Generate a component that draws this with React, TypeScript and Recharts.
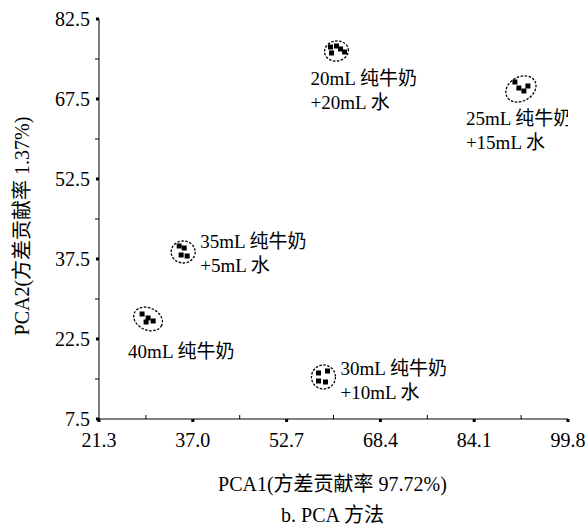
import React from 'react';
import { ScatterChart, Scatter, XAxis, YAxis } from 'recharts';

// tick values (major + minor midpoints)
const xTicks = [21.3, 29.15, 37.0, 44.85, 52.7, 60.55, 68.4, 76.25, 84.1, 91.95, 99.8];
const yTicks = [7.5, 15, 22.5, 30, 37.5, 45, 52.5, 60, 67.5, 75, 82.5];
const xMajor = [21.3, 37.0, 52.7, 68.4, 84.1, 99.8];
const yMajor = [7.5, 22.5, 37.5, 52.5, 67.5, 82.5];

// sample scores per group
const milk20water20 = [
  { x: 60.05, y: 77.25 },
  { x: 61.05, y: 77.44 },
  { x: 61.73, y: 76.88 },
  { x: 62.4, y: 76.31 },
  { x: 60.22, y: 76.13 },
];
const milk25water15 = [
  { x: 90.91, y: 70.69 },
  { x: 91.58, y: 69.56 },
  { x: 92.42, y: 69.0 },
  { x: 93.09, y: 69.94 },
];
const milk35water5 = [
  { x: 34.72, y: 39.94 },
  { x: 35.56, y: 39.56 },
  { x: 36.06, y: 38.06 },
  { x: 35.05, y: 38.25 },
];
const milk40 = [
  { x: 28.51, y: 27.19 },
  { x: 29.52, y: 26.44 },
  { x: 30.36, y: 25.88 },
  { x: 29.18, y: 25.69 },
];
const milk30water10 = [
  { x: 58.04, y: 16.13 },
  { x: 59.55, y: 16.5 },
  { x: 59.21, y: 14.44 },
  { x: 58.04, y: 14.63 },
];

const groups = [milk20water20, milk25water15, milk35water5, milk40, milk30water10];

// group centres (ellipse centres) and their captions
const centres = [
  { x: 61.05, y: 76.5, id: 0 },
  { x: 91.92, y: 69.38, id: 1 },
  { x: 35.39, y: 38.81, id: 2 },
  { x: 29.52, y: 26.25, id: 3 },
  { x: 58.87, y: 15.38, id: 4 },
];
const captions = [
  ['20mL 纯牛奶', '+20mL 水'],
  ['25mL 纯牛奶', '+15mL 水'],
  ['35mL 纯牛奶', '+5mL 水'],
  ['40mL 纯牛奶'],
  ['30mL 纯牛奶', '+10mL 水'],
];

// ellipse size/tilt and caption offset, in px
const marks = [
  { rx: 12, ry: 10, rot: -10, dx: -26, dy: 27 },
  { rx: 16, ry: 12, rot: -30, dx: -55, dy: 29 },
  { rx: 12, ry: 11, rot: 0, dx: 17, dy: -11 },
  { rx: 15, ry: 11, rot: 25, dx: -20, dy: 32 },
  { rx: 12, ry: 12, rot: 0, dx: 17, dy: -9 },
];

const FONT = '"Liberation Serif", "Noto Sans CJK SC", serif';
const FS = 20;

const XTick = (props: any) => {
  const { x, y, payload } = props;
  const major = xMajor.some((v) => Math.abs(v - payload.value) < 0.01);
  if (!major) return <line x1={x} x2={x} y1={y} y2={y - 4} stroke="#000" />;
  return (
    <g>
      <rect x={x - 1.5} y={y} width={3} height={3} fill="#000" />
      <text x={x} y={y + 28} textAnchor="middle" fontSize={FS} fontFamily={FONT} fill="#000">
        {payload.value.toFixed(1)}
      </text>
    </g>
  );
};

const YTick = (props: any) => {
  const { x, y, payload } = props;
  const major = yMajor.some((v) => Math.abs(v - payload.value) < 0.01);
  if (!major) return <line x1={x} x2={x - 4} y1={y} y2={y} stroke="#000" />;
  return (
    <g>
      <rect x={x - 3} y={y - 1.5} width={3} height={3} fill="#000" />
      <text x={x - 9} y={y + 7} textAnchor="end" fontSize={FS} fontFamily={FONT} fill="#000">
        {payload.value.toFixed(1)}
      </text>
    </g>
  );
};

const Dot = (props: any) => {
  const { cx, cy } = props;
  return <rect x={cx - 2.5} y={cy - 2.5} width={5} height={5} fill="#000" />;
};

const Cluster = (props: any) => {
  const { cx, cy, payload } = props;
  const m = marks[payload.id];
  const lines = captions[payload.id];
  return (
    <g>
      <ellipse
        cx={cx}
        cy={cy}
        rx={m.rx}
        ry={m.ry}
        fill="none"
        stroke="#000"
        strokeWidth={1.3}
        strokeDasharray="2.5 1.5"
        transform={`rotate(${m.rot} ${cx} ${cy})`}
      />
      {lines.map((t, i) => (
        <text
          key={i}
          x={cx + m.dx}
          y={cy + m.dy + i * 24 + 7}
          fontSize={FS - 1}
          fontFamily={FONT}
          fill="#000"
        >
          {t}
        </text>
      ))}
    </g>
  );
};

export default function App() {
  return (
    <div style={{ position: 'absolute', left: 0, top: 0, width: 585, height: 527, background: '#fff', fontFamily: FONT }}>
      <ScatterChart width={585} height={527} margin={{ top: 19, right: 17, bottom: 68, left: 39 }}>
        <XAxis
          type="number"
          dataKey="x"
          domain={[21.3, 99.8]}
          ticks={xTicks}
          interval={0}
          height={40}
          tickSize={0}
          tickMargin={0}
          tickLine={false}
          tick={<XTick />}
          axisLine={{ stroke: '#000' }}
          allowDataOverflow
        />
        <YAxis
          type="number"
          dataKey="y"
          domain={[7.5, 82.5]}
          ticks={yTicks}
          interval={0}
          width={60}
          tickSize={0}
          tickMargin={0}
          tickLine={false}
          tick={<YTick />}
          axisLine={{ stroke: '#000' }}
          allowDataOverflow
        />
        <Scatter data={centres} shape={<Cluster />} isAnimationActive={false} />
        {groups.map((g, i) => (
          <Scatter key={i} data={g} shape={<Dot />} isAnimationActive={false} />
        ))}
      </ScatterChart>
      <div style={{ position: 'absolute', left: 0, width: 585, top: 471, textAlign: 'center', fontSize: FS, lineHeight: '26px', paddingLeft: 80, boxSizing: 'border-box' }}>
        PCA1(方差贡献率 97.72%)
      </div>
      <div style={{ position: 'absolute', left: 0, width: 585, top: 502, textAlign: 'center', fontSize: FS, lineHeight: '26px', paddingLeft: 80, boxSizing: 'border-box' }}>
        b. PCA 方法
      </div>
      <div
        style={{
          position: 'absolute',
          left: 22,
          top: 226,
          fontSize: FS,
          lineHeight: '26px',
          whiteSpace: 'nowrap',
          transform: 'translate(-50%, -50%) rotate(-90deg)',
        }}
      >
        PCA2(方差贡献率 1.37%)
      </div>
    </div>
  );
}
